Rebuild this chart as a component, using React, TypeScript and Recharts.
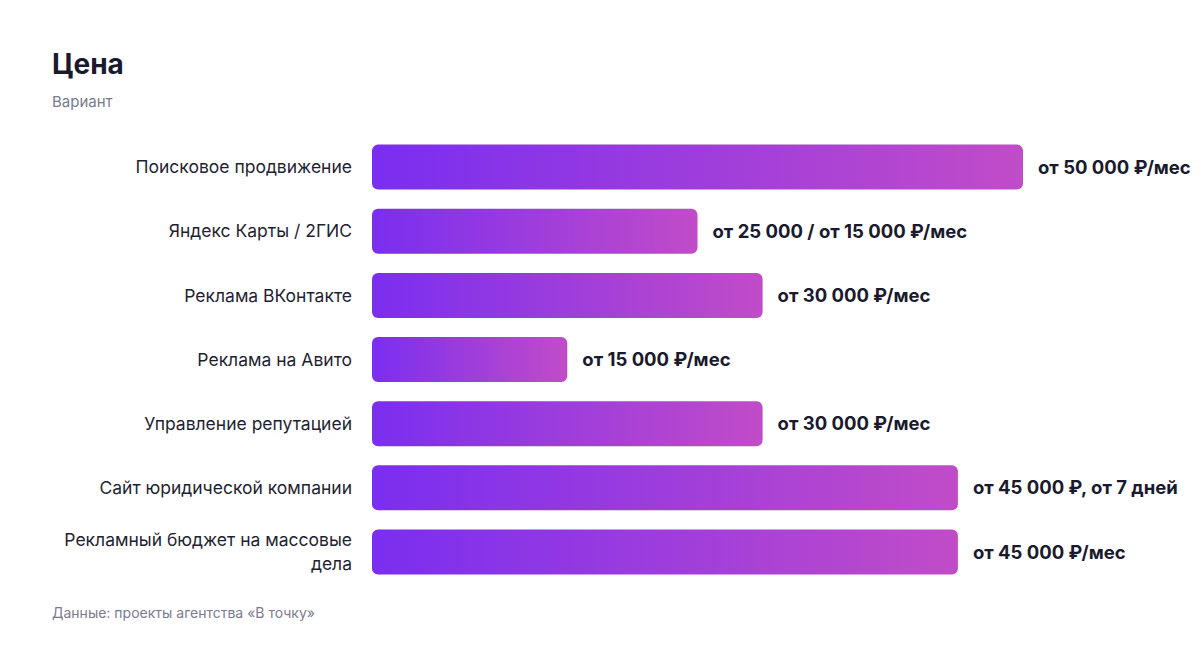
import { BarChart, Bar, XAxis, YAxis, LabelList, Text } from "recharts";

const categories = [
  "Поисковое продвижение",
  "Яндекс Карты / 2ГИС",
  "Реклама ВКонтакте",
  "Реклама на Авито",
  "Управление репутацией",
  "Сайт юридической компании",
  "Рекламный бюджет на массовые дела",
];
const prices = [50000, 25000, 30000, 15000, 30000, 45000, 45000];
const priceLabels = [
  "от 50 000 ₽/мес",
  "от 25 000 / от 15 000 ₽/мес",
  "от 30 000 ₽/мес",
  "от 15 000 ₽/мес",
  "от 30 000 ₽/мес",
  "от 45 000 ₽, от 7 дней",
  "от 45 000 ₽/мес",
];

const data = categories.map((name, i) => ({
  name,
  price: prices[i],
  label: priceLabels[i],
}));

const FONT = "Inter, 'Noto Sans', sans-serif";

function CategoryTick(props: any) {
  const { x, y, payload } = props;
  return (
    <Text
      x={x}
      y={y}
      width={300}
      textAnchor="end"
      verticalAnchor="middle"
      lineHeight="1.4em"
      fontSize={17.5}
      fontFamily={FONT}
      fill="#1f1f33"
      style={{ fontSize: 17.5, fontFamily: FONT }}
    >
      {payload.value}
    </Text>
  );
}

export default function App() {
  return (
    <div
      style={{
        position: "absolute",
        left: 0,
        top: 0,
        width: 1200,
        height: 648,
        background: "#fff",
        fontFamily: FONT,
      }}
    >
      <div
        style={{
          position: "absolute",
          left: 52,
          top: 46,
          fontSize: 28,
          fontWeight: 700,
          color: "#1a1a2e",
          lineHeight: "36px",
        }}
      >
        Цена
      </div>
      <div
        style={{
          position: "absolute",
          left: 52,
          top: 93,
          fontSize: 15,
          color: "#7b7b8f",
          lineHeight: "18px",
        }}
      >
        Вариант
      </div>
      <div style={{ position: "absolute", left: 0, top: 135 }}>
        <BarChart
          width={1200}
          height={449}
          data={data}
          layout="vertical"
          margin={{ top: 0, right: 177, bottom: 0, left: 0 }}
          barCategoryGap="15%"
          style={{ overflow: "visible" }}
        >
          <defs>
            <linearGradient id="barGradient" x1="0" y1="0" x2="1" y2="0">
              <stop offset="0%" stopColor="#7a2ef0" />
              <stop offset="100%" stopColor="#c14cc8" />
            </linearGradient>
          </defs>
          <XAxis type="number" domain={[0, 50000]} hide />
          <YAxis
            type="category"
            dataKey="name"
            width={372}
            axisLine={false}
            tickLine={false}
            tickSize={0}
            tickMargin={20}
            tick={<CategoryTick />}
            interval={0}
          />
          <Bar
            dataKey="price"
            fill="url(#barGradient)"
            radius={6}
            isAnimationActive={false}
          >
            <LabelList
              dataKey="label"
              position="right"
              offset={15}
              fill="#1a1a2e"
              fontSize={18.5}
              fontWeight={700}
              fontFamily={FONT}
            />
          </Bar>
        </BarChart>
      </div>
      <div
        style={{
          position: "absolute",
          left: 52,
          top: 604,
          fontSize: 14,
          color: "#7b7b8f",
          lineHeight: "18px",
        }}
      >
        Данные: проекты агентства «В точку»
      </div>
    </div>
  );
}
